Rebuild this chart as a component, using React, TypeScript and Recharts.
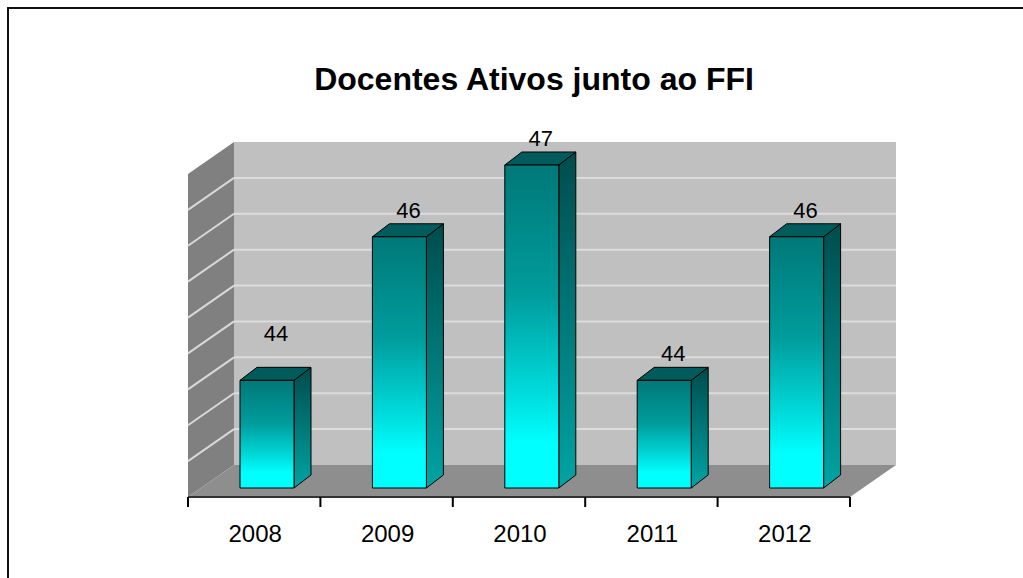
import { Bar, BarChart, CartesianGrid, LabelList, XAxis, YAxis } from "recharts";

const years = ["2008", "2009", "2010", "2011", "2012"];
const docentes = [44, 46, 47, 44, 46];
const yTicks = [42.5, 43, 43.5, 44, 44.5, 45, 45.5, 46, 46.5, 47];

const data = years.map((year, i) => ({ year, docentes: docentes[i] }));

const W = 1023;
const H = 578;
const FONT = "'Liberation Sans', Arial, sans-serif";

// front plane of the bars (the recharts plot area)
const PLOT = { left: 201, top: 165, right: 863, bottom: 488 };
const X_AXIS_H = 40;
// 3d offsets
const BACK = { dx: 33, dy: -23 };
const FRONT = { dx: -13, dy: 9 };
const BAR_D = { dx: 17, dy: -13 };
const BAND = (PLOT.right - PLOT.left) / years.length;

function Walls() {
  const bx0 = PLOT.left + BACK.dx;
  const bx1 = PLOT.right + BACK.dx;
  const by0 = PLOT.top + BACK.dy;
  const by1 = PLOT.bottom + BACK.dy;
  const fx0 = PLOT.left + FRONT.dx;
  const fx1 = PLOT.right + FRONT.dx;
  const fy0 = PLOT.top + FRONT.dy;
  const fy1 = PLOT.bottom + FRONT.dy;
  return (
    <svg width={W} height={H} style={{ position: "absolute", left: 0, top: 0 }}>
      <defs>
        <linearGradient id="barFront" x1="0" y1="0" x2="0" y2="1">
          <stop offset="0%" stopColor="#007878" />
          <stop offset="40%" stopColor="#009c9c" />
          <stop offset="70%" stopColor="#00dada" />
          <stop offset="86%" stopColor="#00ffff" />
          <stop offset="100%" stopColor="#00ffff" />
        </linearGradient>
        <linearGradient id="barSide" x1="0" y1="0" x2="0" y2="1">
          <stop offset="0%" stopColor="#004c4c" />
          <stop offset="100%" stopColor="#00a4a4" />
        </linearGradient>
      </defs>
      <text
        x={534}
        y={90}
        textAnchor="middle"
        fontFamily={FONT}
        fontWeight="bold"
        fontSize={32}
        fill="#000"
      >
        Docentes Ativos junto ao FFI
      </text>
      <rect x={bx0} y={by0} width={bx1 - bx0} height={by1 - by0} fill="#c0c0c0" />
      <polygon
        points={`${fx0},${fy0} ${bx0},${by0} ${bx0},${by1} ${fx0},${fy1}`}
        fill="#808080"
      />
      <polygon
        points={`${fx0},${fy1} ${bx0},${by1} ${bx1},${by1} ${fx1},${fy1}`}
        fill="#8e8e8e"
      />
      <line x1={fx0} y1={fy1} x2={fx1} y2={fy1} stroke="#333" strokeWidth={2} />
    </svg>
  );
}

function GridLine(props: any) {
  const { x1, x2, y, y1, index } = props;
  const yy = y1 ?? y;
  if (index === 0 || index === yTicks.length - 1) return <g key={props.key} />;
  return (
    <g key={props.key}>
      <line
        x1={x1 + BACK.dx}
        y1={yy + BACK.dy}
        x2={x2 + BACK.dx}
        y2={yy + BACK.dy}
        stroke="#dcdcdc"
        strokeWidth={2}
      />
      <line
        x1={x1 + FRONT.dx}
        y1={yy + FRONT.dy}
        x2={x1 + BACK.dx}
        y2={yy + BACK.dy}
        stroke="#d8d8d8"
        strokeWidth={2}
      />
    </g>
  );
}

function Bar3D(props: any) {
  const { x, y, width, height } = props;
  const { dx, dy } = BAR_D;
  return (
    <g stroke="#000" strokeWidth={1} strokeLinejoin="round">
      <polygon
        points={`${x + width},${y} ${x + width + dx},${y + dy} ${x + width + dx},${y + height + dy} ${x + width},${y + height}`}
        fill="url(#barSide)"
      />
      <polygon
        points={`${x},${y} ${x + dx},${y + dy} ${x + width + dx},${y + dy} ${x + width},${y}`}
        fill="#005c5c"
      />
      <rect x={x} y={y} width={width} height={height} fill="url(#barFront)" />
    </g>
  );
}

function ValueLabel(props: any) {
  const { x, y, width, value, index } = props;
  const lift = index === 0 ? 20 : 0;
  return (
    <text
      x={x + width / 2 + 9}
      y={y - 19 - lift}
      textAnchor="middle"
      fontFamily={FONT}
      fontSize={22}
      fill="#000"
    >
      {value}
    </text>
  );
}

function YearTick(props: any) {
  const { x, payload, index } = props;
  const fx = x + FRONT.dx;
  const ty = PLOT.bottom + FRONT.dy;
  return (
    <g>
      <line x1={fx - BAND / 2} y1={ty} x2={fx - BAND / 2} y2={ty + 10} stroke="#000" strokeWidth={2} />
      {index === years.length - 1 && (
        <line x1={fx + BAND / 2} y1={ty} x2={fx + BAND / 2} y2={ty + 10} stroke="#000" strokeWidth={2} />
      )}
      <text x={fx + 1} y={542} textAnchor="middle" fontFamily={FONT} fontSize={24} fill="#000">
        {payload.value}
      </text>
    </g>
  );
}

export default function App() {
  return (
    <div
      style={{
        position: "absolute",
        left: 0,
        top: 0,
        width: W,
        height: H,
        overflow: "hidden",
        background: "#fff",
      }}
    >
      <div
        style={{
          position: "absolute",
          left: 7,
          top: 7,
          width: 1048,
          height: 620,
          border: "2px solid #111",
        }}
      />
      <Walls />
      <div style={{ position: "absolute", left: 0, top: 0 }}>
        <BarChart
          width={W}
          height={H}
          data={data}
          margin={{
            top: PLOT.top,
            left: PLOT.left,
            right: W - PLOT.right,
            bottom: H - PLOT.bottom - X_AXIS_H,
          }}
          barSize={54}
        >
          <CartesianGrid vertical={false} horizontal={GridLine} />
          <YAxis hide domain={[42.5, 47]} ticks={yTicks} />
          <XAxis
            dataKey="year"
            height={X_AXIS_H}
            axisLine={false}
            tickLine={false}
            tick={YearTick}
            interval={0}
          />
          <Bar dataKey="docentes" shape={Bar3D} isAnimationActive={false}>
            <LabelList dataKey="docentes" content={ValueLabel} />
          </Bar>
        </BarChart>
      </div>
    </div>
  );
}
